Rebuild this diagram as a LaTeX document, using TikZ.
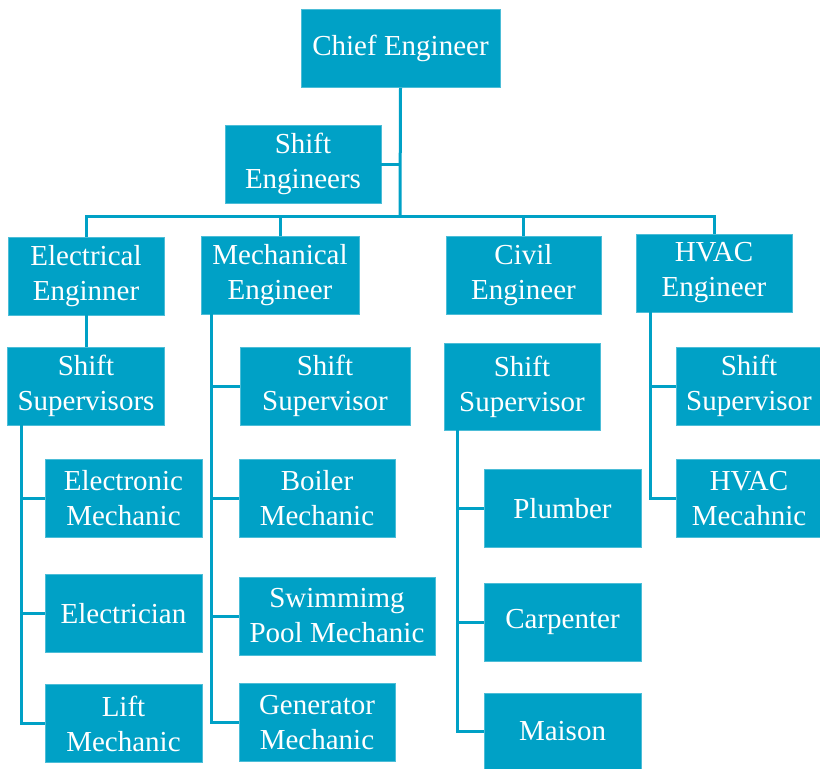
\documentclass[tikz,border=0pt]{standalone}
\usepackage{fontspec}
\setmainfont{Liberation Serif}
\definecolor{boxblue}{RGB}{0,161,198}

\begin{document}
\begin{tikzpicture}[x=1pt, y=-1pt,
    box/.style={rectangle, fill=boxblue, draw=boxblue!70!white, line width=0.8pt,
        text=white, align=center, inner sep=0pt, minimum height=78pt,
        font=\fontsize{29}{35}\selectfont},
    link/.style={draw=boxblue, line width=3pt}]
    \useasboundingbox (0,0) rectangle (820,769);
    % top
    \node[box, minimum width=199pt] (chief) at (400.5,48.5) {Chief Engineer};
    \node[box, minimum width=156pt] (sheng) at (303,164) {Shift\\Engineers};
    \coordinate (bar) at (400,216);
    \draw[link] (chief.south) -- (bar);
    \draw[link] (sheng.east) -- (sheng.east -| bar);
    % departments
    \node[box, minimum width=156pt] (elec) at (86,276) {Electrical\\Enginner};
    \node[box, minimum width=158pt] (mech) at (280,275) {Mechanical\\Engineer};
    \node[box, minimum width=155pt] (civil) at (523.5,275) {Civil\\Engineer};
    \node[box, minimum width=156pt] (hvac) at (714,273) {HVAC\\Engineer};
    \draw[link] (elec.north) |- (bar);
    \draw[link] (hvac.north) |- (bar);
    \draw[link] (mech.north) -- (mech.north |- bar);
    \draw[link] (civil.north) -- (civil.north |- bar);
    % electrical
    \node[box, minimum width=157pt] (esup) at (86,386) {Shift\\Supervisors};
    \node[box, minimum width=157pt] (emech) at (123.5,498.5) {Electronic\\Mechanic};
    \node[box, minimum width=157pt] (elcn) at (123.5,613.5) {Electrician};
    \node[box, minimum width=157pt] (lift) at (123.5,723.5) {Lift\\Mechanic};
    \draw[link] (elec.south) -- (esup.north);
    \coordinate (espine) at ([xshift=14pt]esup.south west);
    \foreach \n in {emech,elcn,lift}
        \draw[link] (espine) |- (\n.west);
    % mechanical
    \node[box, minimum width=170pt] (msup) at (325,386) {Shift\\Supervisor};
    \node[box, minimum width=156pt] (boiler) at (317,498.5) {Boiler\\Mechanic};
    \node[box, minimum width=196pt] (pool) at (337,616) {Swimmimg\\Pool Mechanic};
    \node[box, minimum width=156pt] (gen) at (317,722.5) {Generator\\Mechanic};
    \coordinate (mspine) at ([xshift=11pt]mech.south west);
    \foreach \n in {msup,boiler,pool,gen}
        \draw[link] (mspine) |- (\n.west);
    % civil
    \node[box, minimum width=156pt, minimum height=87pt] (csup) at (522,386.5) {Shift\\Supervisor};
    \node[box, minimum width=157pt] (plumb) at (562.5,508.5) {Plumber};
    \node[box, minimum width=157pt] (carp) at (562.5,622) {Carpenter};
    \node[box, minimum width=157pt, minimum height=76pt] (maison) at (562.5,731) {Maison};
    \coordinate (cspine) at ([xshift=14pt]csup.south west);
    \foreach \n in {plumb,carp,maison}
        \draw[link] (cspine) |- (\n.west);
    % hvac
    \node[box, minimum width=146pt] (hsup) at (749,386) {Shift\\Supervisor};
    \node[box, minimum width=146pt] (hmech) at (749,498.5) {HVAC\\Mecahnic};
    \coordinate (hspine) at ([xshift=15pt]hvac.south west);
    \foreach \n in {hsup,hmech}
        \draw[link] (hspine) |- (\n.west);
\end{tikzpicture}
\end{document}
